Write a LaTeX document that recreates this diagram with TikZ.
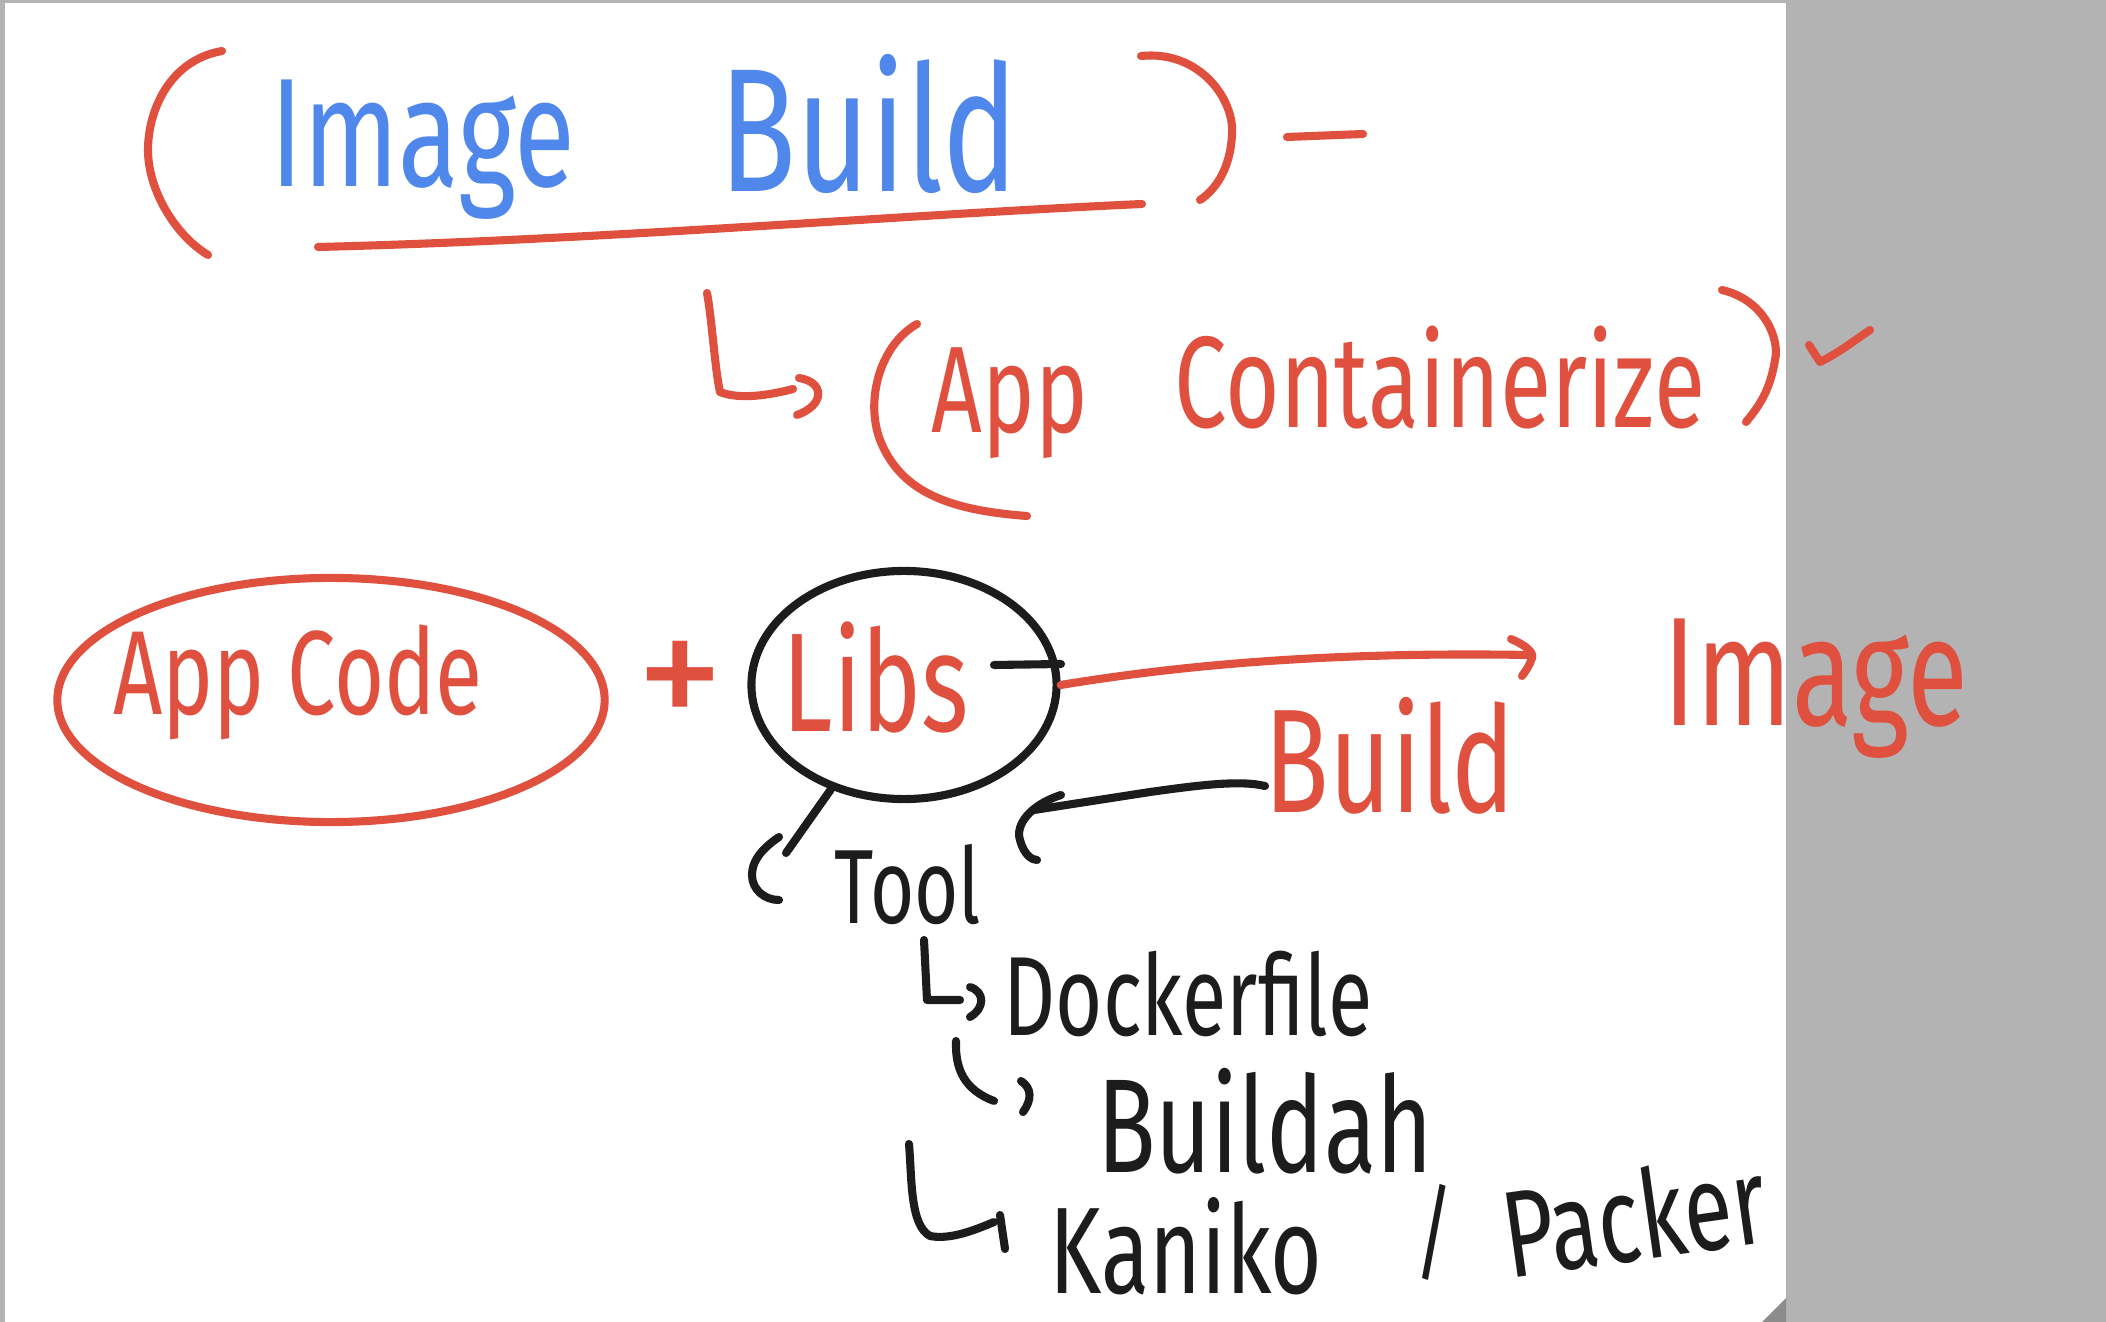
\documentclass[tikz,border=0pt]{standalone}
\usepackage{fontspec}
\setmainfont{Fira Sans}
\newfontfamily\handfont[FakeStretch=0.72]{Fira Sans}
\usetikzlibrary{shapes.geometric}
\definecolor{inkred}{HTML}{E0503F}
\definecolor{inkblue}{HTML}{4F87EB}
\definecolor{inkblack}{HTML}{1C1C1C}
\definecolor{sheetgray}{HTML}{B3B3B3}
\definecolor{cornergray}{HTML}{8C8C8C}
\tikzset{
  pen/.style={line width=2.3pt, line cap=round, line join=round},
  redpen/.style={pen, draw=inkred},
  blackpen/.style={pen, draw=inkblack},
  hand/.style={font=\handfont\fontsize{#1}{#1}\selectfont, inner sep=0pt},
  redtxt/.style={hand=#1, text=inkred},
  bluetxt/.style={hand=#1, text=inkblue},
  blacktxt/.style={hand=#1, text=inkblack},
  ring/.style={ellipse, pen, minimum width=#1},
}
\begin{document}
\begin{tikzpicture}[x=0.01cm, y=-0.01cm]
  \useasboundingbox (0,0) rectangle (2106,1322);
  % Sheet and margins
  \fill[white] (0,0) rectangle (2106,1322);
  \fill[sheetgray] (1786,0) rectangle (2106,1322);
  \fill[sheetgray] (0,0) rectangle (5,1322);
  \fill[sheetgray] (0,0) rectangle (1786,3);
  \fill[cornergray] (1762,1322) -- (1786,1298) -- (1786,1322) -- cycle;
  % Title
  \node[bluetxt=44] (ttlimage) at (423,150) {Image};
  \node[bluetxt=50] (ttlbuild) at (869,124) {Build};
  \draw[redpen] (222,51) .. controls (170,60) and (148,110) .. (148,150) .. controls (148,190) and (175,235) .. (208,255);
  \draw[redpen] (1141,56) .. controls (1200,50) and (1235,100) .. (1232,135) .. controls (1230,170) and (1215,190) .. (1200,200);
  \draw[redpen] (1287,137) -- (1363,134);
  \draw[redpen] (318,247) .. controls (600,240) and (900,215) .. (1142,204);
  % App containerize
  \node[redtxt=35] (app) at (1010,403) {App};
  \node[redtxt=37] (contain) at (1440,378) {Containerize};
  \coordinate (ttlfoot) at (707,293);
  \coordinate (appin) at (793,389);
  \draw[redpen] (ttlfoot) .. controls (712,320) and (715,370) .. (720,392) .. controls (740,400) and (770,395) .. (appin);
  \draw[redpen] (799,378) .. controls (825,382) and (825,405) .. (797,415);
  \draw[redpen] (917,324) .. controls (880,345) and (865,400) .. (880,440) .. controls (900,490) and (945,510) .. (1027,516);
  \draw[redpen] (1722,290) .. controls (1765,300) and (1780,340) .. (1775,360) .. controls (1770,390) and (1760,405) .. (1746,422);
  \draw[redpen] (1809,345) -- (1820,362) .. controls (1840,352) and (1855,340) .. (1870,330);
  % App code + libs
  \node[ring=5.47cm, draw=inkred, minimum height=2.44cm] (codering) at (331,700) {};
  \node[redtxt=34] (appcode) at (298,682) {App Code};
  \node[text=inkred, font=\fontsize{50}{50}\selectfont, inner sep=0pt] (plus) at (680,687) {+};
  \node[ring=3.05cm, draw=inkblack, minimum height=2.28cm] (libsring) at (904,685) {};
  \node[redtxt=40] (libs) at (876,677) {Libs};
  \draw[blackpen] (994,665) -- (1061,664);
  % Arrow to image
  \coordinate (imgtip) at (1530,655);
  \draw[redpen] (libsring.east) .. controls (1200,662) and (1350,652) .. (imgtip);
  \draw[redpen] (1511,639) .. controls (1525,645) and (1534,652) .. (1532,658) .. controls (1530,665) and (1525,672) .. (1522,676);
  \node[redtxt=44] (rimage) at (1816,689) {Image};
  \node[redtxt=42] (rbuild) at (1390,756) {Build};
  % Tool
  \coordinate (bhook) at (1265,786);
  \coordinate (curl) at (1034,810);
  \draw[blackpen] (bhook) .. controls (1240,780) and (1200,785) .. (1150,792) -- (curl);
  \draw[blackpen] (1061,795) .. controls (1030,805) and (1015,825) .. (1020,840) .. controls (1024,855) and (1032,860) .. (1037,860);
  \draw[blackpen] (libsring.-125) -- (786,853);
  \draw[blackpen] (779,837) .. controls (760,850) and (752,862) .. (752,875) .. controls (752,890) and (765,900) .. (779,900);
  \node[blacktxt=30] (tool) at (908,885) {Tool};
  % Tools list
  \node[blacktxt=32] (docker) at (1188,994) {Dockerfile};
  \node[blacktxt=38] (buildah) at (1265,1121) {Buildah};
  \node[blacktxt=35] (kaniko) at (1186,1246) {Kaniko};
  \node[blacktxt=30] (slash) at (1434,1232) {/};
  \node[blacktxt=35, rotate=8] (packer) at (1634,1215) {Packer};
  \coordinate (dockstem) at (924,940);
  \coordinate (dockin) at (960,1000);
  \draw[blackpen] (dockstem) -- (927,1000) -- (dockin);
  \draw[blackpen] (970,987) .. controls (985,992) and (985,1008) .. (970,1017);
  \coordinate (bahstem) at (956,1041);
  \coordinate (bahin) at (994,1101);
  \draw[blackpen] (bahstem) .. controls (955,1070) and (965,1090) .. (bahin);
  \draw[blackpen] (1021,1081) .. controls (1032,1088) and (1032,1100) .. (1023,1112);
  \coordinate (kanstem) at (909,1144);
  \coordinate (kanin) at (994,1222);
  \draw[blackpen] (kanstem) .. controls (912,1180) and (910,1225) .. (930,1236) .. controls (950,1240) and (975,1230) .. (kanin);
  \draw[blackpen] (1000,1215) -- (1005,1249);
\end{tikzpicture}
\end{document}
